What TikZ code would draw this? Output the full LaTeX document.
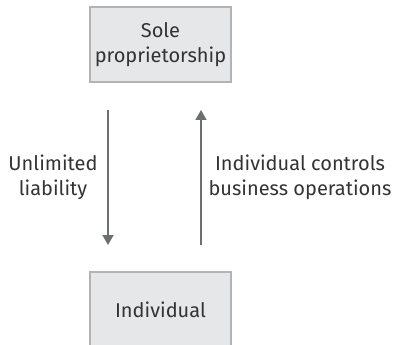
\documentclass[tikz,border=0pt]{standalone}
\usepackage{fontspec}
\setmainfont{Fira Sans}
\usetikzlibrary{arrows.meta}
\definecolor{boxfill}{HTML}{E6E7E9}
\definecolor{boxline}{HTML}{B3B3B3}
\definecolor{arrowc}{HTML}{6D6E70}
\definecolor{txt}{HTML}{333333}
\begin{document}
\begin{tikzpicture}[x=1pt,y=-1pt,
  entity/.style={draw=boxline,line width=1.2pt,fill=boxfill,minimum width=141pt,inner sep=0pt,text=txt,font=\fontsize{20}{25}\selectfont,align=center},
  lbl/.style={text=txt,font=\fontsize{20}{25}\selectfont,align=center,inner sep=0pt},
  flow/.style={draw=arrowc,line width=1.6pt,-{Triangle[length=10pt,width=11pt]}}]
\useasboundingbox (0,0) rectangle (394,345);
\node[entity,minimum height=75pt] (sole) at (160.5,44.5) {Sole\\proprietorship};
\node[entity,minimum height=75pt] (ind) at (160.5,309.5) {Individual};
\coordinate (d1) at (108,110);
\coordinate (d2) at (108,245);
\coordinate (u1) at (201,245);
\coordinate (u2) at (201,110);
\draw[flow] (d1) -- (d2);
\draw[flow] (u1) -- (u2);
\node[lbl] (l1) at (53,177) {Unlimited\\liability};
\node[lbl] (l2) at (300,177) {Individual controls\\business operations};
\end{tikzpicture}
\end{document}
